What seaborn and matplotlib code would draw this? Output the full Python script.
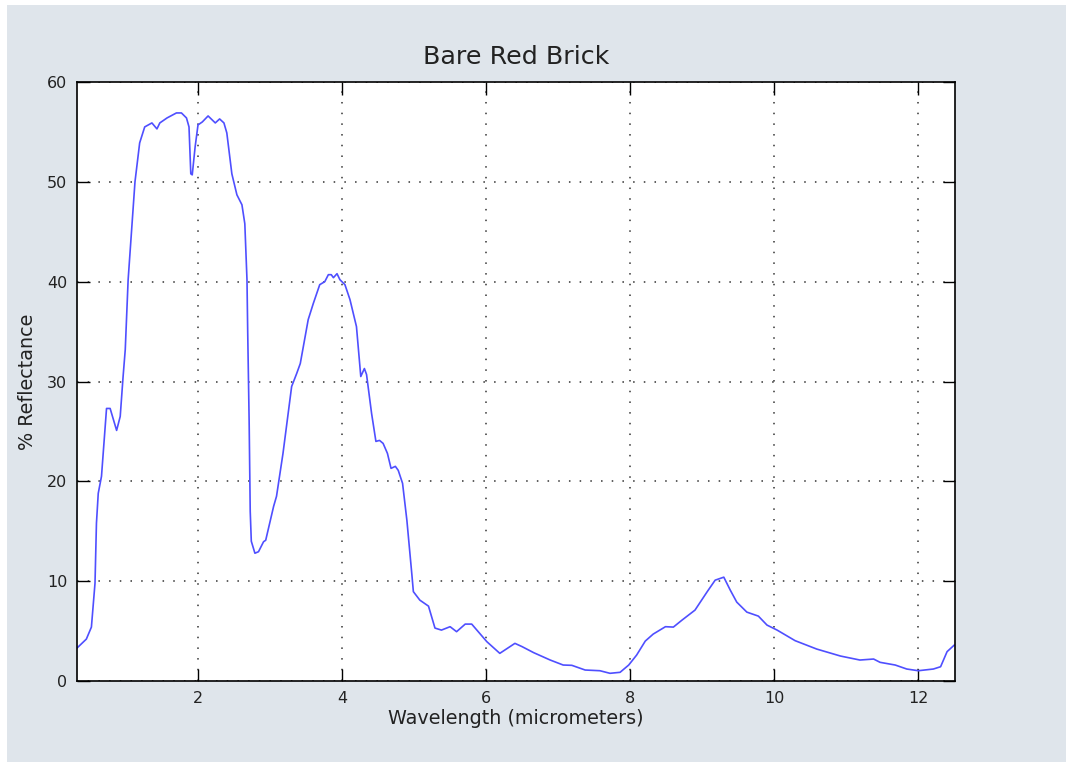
import matplotlib
matplotlib.use("Agg")
import matplotlib.pyplot as plt
import seaborn as sns
import pandas as pd
from matplotlib.patches import Rectangle

wavelength = [0.32, 0.45, 0.52, 0.57, 0.59, 0.615, 0.66, 0.73, 0.78, 0.87, 0.92, 0.96,
              0.99, 1.03, 1.125, 1.19, 1.26, 1.36, 1.43, 1.47, 1.57, 1.70, 1.77, 1.84,
              1.875, 1.90, 1.92, 1.96, 2.00, 2.06, 2.14, 2.24, 2.30, 2.36, 2.40, 2.47,
              2.54, 2.61, 2.65, 2.68, 2.69, 2.71, 2.725, 2.74, 2.79, 2.84, 2.91, 2.94,
              3.05, 3.09, 3.18, 3.30, 3.37, 3.42, 3.53, 3.60, 3.69, 3.76, 3.81, 3.85,
              3.88, 3.93, 3.97, 4.04, 4.11, 4.20, 4.26, 4.31, 4.34, 4.41, 4.47, 4.52,
              4.57, 4.63, 4.68, 4.74, 4.78, 4.84, 4.90, 4.94, 4.97, 4.99, 5.08, 5.20,
              5.29, 5.38, 5.50, 5.59, 5.71, 5.80, 6.01, 6.19, 6.40, 6.50, 6.66, 6.89,
              7.07, 7.19, 7.375, 7.58, 7.72, 7.86, 7.98, 8.09, 8.21, 8.32, 8.49, 8.60,
              8.72, 8.90, 9.07, 9.18, 9.30, 9.39, 9.48, 9.62, 9.78, 9.90, 10.04, 10.29,
              10.59, 10.92, 11.19, 11.38, 11.47, 11.68, 11.84, 12.00, 12.21, 12.31,
              12.40, 12.50]

reflectance = [3.3, 4.2, 5.4, 9.8, 15.8, 18.8, 20.5, 27.3, 27.3, 25.1, 26.5, 30.5,
               33.2, 40.2, 50.0, 53.9, 55.5, 55.9, 55.3, 55.9, 56.4, 56.9, 56.9, 56.4,
               55.5, 50.8, 50.7, 53.5, 55.7, 56.0, 56.6, 55.9, 56.3, 55.9, 54.9, 50.8,
               48.7, 47.7, 45.8, 40.2, 35.0, 26.0, 17.0, 14.0, 12.8, 12.95, 13.95, 14.1,
               17.5, 18.5, 22.8, 29.5, 30.8, 31.8, 36.2, 37.8, 39.7, 40.0, 40.7, 40.7,
               40.4, 40.8, 40.2, 39.7, 38.2, 35.5, 30.5, 31.3, 30.7, 26.8, 24.0, 24.1,
               23.8, 22.8, 21.3, 21.5, 21.1, 19.8, 16.1, 13.0, 10.6, 8.95, 8.1, 7.5,
               5.3, 5.1, 5.44, 4.94, 5.7, 5.7, 3.94, 2.77, 3.77, 3.44, 2.84, 2.1,
               1.6, 1.57, 1.1, 1.03, 0.77, 0.87, 1.6, 2.6, 4.0, 4.7, 5.44, 5.4,
               6.1, 7.1, 8.95, 10.1, 10.4, 9.1, 7.9, 6.9, 6.5, 5.6, 5.1, 4.04,
               3.2, 2.5, 2.1, 2.2, 1.87, 1.6, 1.2, 1.03, 1.2, 1.43,
               2.94, 3.6]

x_ticks = [2, 4, 6, 8, 10, 12]
y_ticks = [0, 10, 20, 30, 40, 50, 60]

df = pd.DataFrame({"Wavelength": wavelength, "Reflectance": reflectance})

sns.set_style("white")
plt.rcParams['font.family'] = ['DejaVu Sans']

W, H = 1073, 769
fig = plt.figure(figsize=(W / 100, H / 100), dpi=100, facecolor="white")
fig.patches.append(Rectangle((7 / W, 7 / H), (1066 - 7) / W, (762 - 5) / H,
                             transform=fig.transFigure, facecolor="#dfe5eb",
                             edgecolor="none", zorder=-10))
ax = fig.add_axes([77 / W, (H - 681) / H, (955 - 77) / W, (681 - 82) / H])
ax.set_facecolor("white")

sns.lineplot(data=df, x="Wavelength", y="Reflectance", ax=ax, color="#4f4fff",
             linewidth=1.2, sort=False, estimator=None)

ax.set_xlim(0.32, 12.51)
ax.set_ylim(0, 60)
ax.set_xticks(x_ticks)
ax.set_yticks(y_ticks)
ax.grid(True, linestyle=(0, (1, 6)), color="#333333", linewidth=1.1)
ax.tick_params(direction="in", length=9, width=1, colors="black", labelsize=11.5,
               top=True, right=True, bottom=True, left=True, pad=7)
ax.tick_params(labelcolor="#222222")
for s in ax.spines.values():
    s.set_color("black")
    s.set_linewidth(1.2)

ax.set_xlabel("Wavelength (micrometers)", fontsize=13.8, color="#222222", labelpad=2)
ax.set_ylabel("% Reflectance", fontsize=13.8, color="#222222", labelpad=7)
ax.set_title("Bare Red Brick", fontsize=18.3, color="#222222", pad=13)

fig.savefig("out.png", dpi=100, facecolor=fig.get_facecolor())
